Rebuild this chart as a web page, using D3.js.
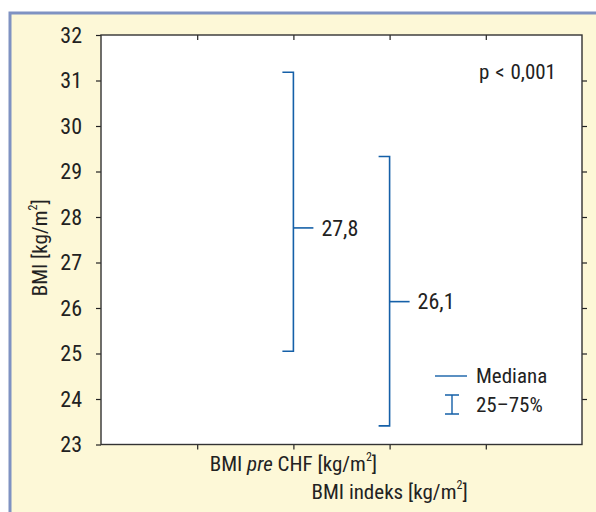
<!DOCTYPE html>
<html>
<head>
<meta charset="utf-8">
<script src="https://cdn.jsdelivr.net/npm/d3@7"></script>
<style>
  body { margin: 0; background: #fff; }
  svg { display: block; }
</style>
</head>
<body>
<svg id="chart" width="596" height="512"></svg>
<script>
// data
const groups = ["BMI pre CHF", "BMI indeks"];
const groupPos = [2, 3];
const q1 = [25.05, 23.41];
const q3 = [31.18, 29.33];
const median = [27.76, 26.14];
const medianLabels = ["27,8", "26,1"];
const yTicks = [23, 24, 25, 26, 27, 28, 29, 30, 31, 32];
const xTicks = [1, 2, 3, 4];

const font = "'Liberation Sans Narrow', 'Roboto Condensed', 'Liberation Sans', sans-serif";
const blue = "#1560a8";
const ink = "#222";

const svg = d3.select("#chart");
const margin = { top: 35, right: 14, bottom: 67.5, left: 101 };
const width = 596, height = 512;

// yellow panel with blue-grey border on top / left
svg.append("rect")
  .attr("x", 10).attr("y", 13)
  .attr("width", width - 10).attr("height", height - 13)
  .attr("fill", "#fdf8d7");
svg.append("path")
  .attr("d", `M10,${height} V13 H${width}`)
  .attr("fill", "none")
  .attr("stroke", "#7f92c2")
  .attr("stroke-width", 3);

const x = d3.scaleLinear()
  .domain([0, 5])
  .range([margin.left, width - margin.right]);

const y = d3.scaleLinear()
  .domain([23, 32])
  .range([height - margin.bottom, margin.top]);

// plot area
svg.append("rect")
  .attr("x", x(0)).attr("y", y(32))
  .attr("width", x(5) - x(0)).attr("height", y(23) - y(32))
  .attr("fill", "#fff");

// axes
const yAxis = svg.append("g")
  .attr("transform", `translate(${x(0)},0)`)
  .call(d3.axisLeft(y).tickValues(yTicks).tickSize(5).tickPadding(14));
const yRight = svg.append("g")
  .attr("transform", `translate(${x(5)},0)`)
  .call(d3.axisLeft(y).tickValues(yTicks.slice(1, -1)).tickSize(-5).tickFormat(""));
const xBottom = svg.append("g")
  .attr("transform", `translate(0,${y(23)})`)
  .call(d3.axisBottom(x).tickValues(xTicks).tickSize(5).tickFormat(""));
const xTop = svg.append("g")
  .attr("transform", `translate(0,${y(32)})`)
  .call(d3.axisBottom(x).tickValues(xTicks).tickSize(5).tickFormat(""));

[yAxis, yRight, xBottom, xTop].forEach(g => {
  g.select(".domain").remove();
  g.selectAll("line").attr("stroke", ink).attr("stroke-width", 1.2);
});
yAxis.selectAll("text")
  .attr("font-family", font)
  .attr("font-size", "22px")
  .attr("fill", ink);

svg.append("rect")
  .attr("x", x(0)).attr("y", y(32))
  .attr("width", x(5) - x(0)).attr("height", y(23) - y(32))
  .attr("fill", "none")
  .attr("stroke", "#333")
  .attr("stroke-width", 1.4);

// error bars: vertical line, caps to the left, median tick to the right
const bars = svg.append("g")
  .attr("stroke", blue)
  .attr("stroke-width", 1.6)
  .attr("fill", "none");

groups.forEach((g, i) => {
  const cx = x(groupPos[i]);
  bars.append("path")
    .attr("d", `M${cx - 11},${y(q3[i])} H${cx} V${y(q1[i])} H${cx - 11}`);
  bars.append("line")
    .attr("x1", cx).attr("x2", cx + 20)
    .attr("y1", y(median[i])).attr("y2", y(median[i]));
  svg.append("text")
    .attr("x", cx + 28)
    .attr("y", y(median[i]))
    .attr("dy", "0.35em")
    .attr("font-family", font)
    .attr("font-size", "22px")
    .attr("fill", ink)
    .text(medianLabels[i]);
});

// x labels, staggered
const xl1 = svg.append("text")
  .attr("x", x(groupPos[0]))
  .attr("y", 471)
  .attr("text-anchor", "middle")
  .attr("font-family", font)
  .attr("font-size", "21px")
  .attr("fill", ink);
xl1.append("tspan").text("BMI ");
xl1.append("tspan").attr("font-style", "italic").text("pre");
xl1.append("tspan").text(" CHF [kg/m");
xl1.append("tspan").attr("font-size", "12px").attr("dy", -10).text("2");
xl1.append("tspan").attr("dy", 10).text("]");

const xl2 = svg.append("text")
  .attr("x", x(groupPos[1]))
  .attr("y", 499)
  .attr("text-anchor", "middle")
  .attr("font-family", font)
  .attr("font-size", "21px")
  .attr("fill", ink);
xl2.append("tspan").text("BMI indeks [kg/m");
xl2.append("tspan").attr("font-size", "12px").attr("dy", -10).text("2");
xl2.append("tspan").attr("dy", 10).text("]");

// y title
const yt = svg.append("text")
  .attr("transform", `translate(47,${(y(23) + y(32)) / 2 + 8}) rotate(-90)`)
  .attr("text-anchor", "middle")
  .attr("font-family", font)
  .attr("font-size", "21px")
  .attr("fill", ink);
yt.append("tspan").text("BMI [kg/m");
yt.append("tspan").attr("font-size", "12px").attr("dy", -10).text("2");
yt.append("tspan").attr("dy", 10).text("]");

// p value
svg.append("text")
  .attr("x", 556)
  .attr("y", 79)
  .attr("text-anchor", "end")
  .attr("font-family", font)
  .attr("font-size", "21px")
  .attr("word-spacing", "1px")
  .attr("fill", ink)
  .text("p < 0,001");

// legend
const leg = svg.append("g");
leg.append("line")
  .attr("x1", 435).attr("x2", 467)
  .attr("y1", 376).attr("y2", 376)
  .attr("stroke", blue).attr("stroke-width", 1.4);
leg.append("path")
  .attr("d", "M445,395 H459 M452,395 V414 M445,414 H459")
  .attr("stroke", blue).attr("stroke-width", 1.4).attr("fill", "none");
leg.selectAll("text")
  .data(["Mediana", "25\u201375%"])
  .join("text")
  .attr("x", 476)
  .attr("y", (d, i) => 376 + i * 29)
  .attr("dy", "0.35em")
  .attr("font-family", font)
  .attr("font-size", "21px")
  .attr("fill", ink)
  .text(d => d);
</script>
</body>
</html>
